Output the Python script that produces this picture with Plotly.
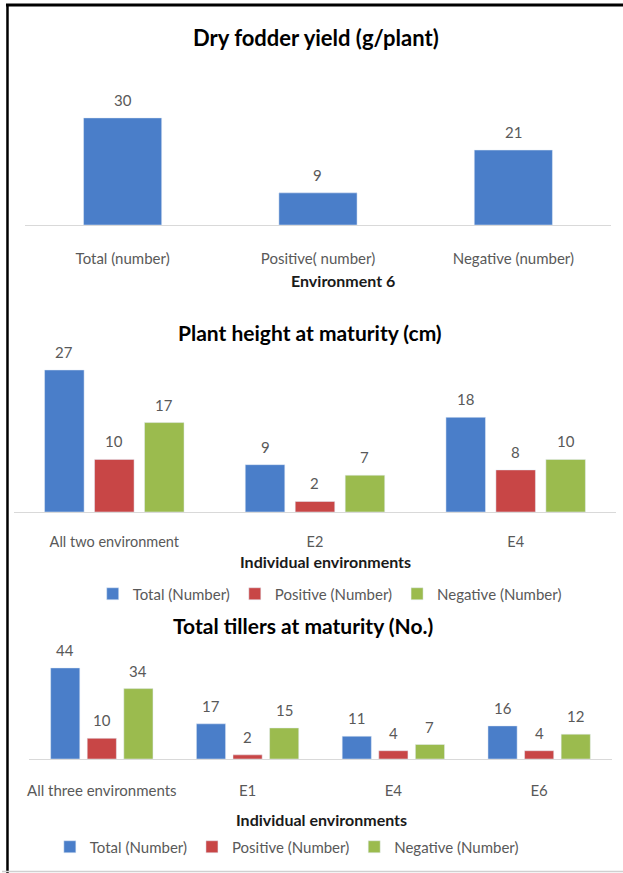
import plotly.graph_objects as go

# ---------------- data ----------------
p1_title = "Dry fodder yield (g/plant)"
p1_categories = ["Total (number)", "Positive( number)", "Negative (number)"]
p1_values = [30, 9, 21]
p1_axis_title = "Environment 6"

p2_title = "Plant height at maturity (cm)"
p2_categories = ["All two environment", "E2", "E4"]
p2_total = [27, 9, 18]
p2_positive = [10, 2, 8]
p2_negative = [17, 7, 10]
p2_axis_title = "Individual environments"

p3_title = "Total tillers at maturity (No.)"
p3_categories = ["All three environments", "E1", "E4", "E6"]
p3_total = [44, 17, 11, 16]
p3_positive = [10, 2, 4, 4]
p3_negative = [34, 15, 7, 12]
p3_axis_title = "Individual environments"

series_names = ["Total (Number)", "Positive (Number)", "Negative (Number)"]
colors = ["#4A7EC9", "#C84646", "#9BBB4E"]

# ---------------- layout helpers ----------------
W, H = 623, 873
FONT = "Lato, 'Open Sans', sans-serif"
GRAY = "#595959"


def px_x(v):
    return v / W


def px_y(v):
    return 1 - v / H


fig = go.Figure()
annotations = []

# panel geometry (pixels): left, right, baseline, px per unit, ymax
panels = {
    1: dict(left=23, right=611, base=225, scale=3.57, ymax=32),
    2: dict(left=12, right=616, base=512, scale=5.26, ymax=29),
    3: dict(left=27, right=612, base=759, scale=2.07, ymax=46),
}

LABEL_FONT = dict(family=FONT, size=15, color=GRAY)

# ---- panel 1 ----
fig.add_trace(go.Bar(
    x=list(range(len(p1_values))), y=p1_values, width=0.4,
    marker_color=colors[0], showlegend=False, xaxis="x", yaxis="y",
))
for i, v in enumerate(p1_values):
    annotations.append(dict(x=i, y=v, xref="x", yref="y", text=str(v),
                            showarrow=False, yshift=18, yanchor="middle",
                            font=LABEL_FONT))


def grouped(cats, series, axis_sfx, legend_name, slot, width):
    for k, vals in enumerate(series):
        off = (k - 1) * slot
        fig.add_trace(go.Bar(
            x=list(range(len(cats))), y=vals, width=width,
            offset=off - width / 2, marker_color=colors[k],
            name=series_names[k], legend=legend_name,
            xaxis="x" + axis_sfx, yaxis="y" + axis_sfx,
        ))
        for i, v in enumerate(vals):
            annotations.append(dict(x=i + off, y=v, xref="x" + axis_sfx,
                                    yref="y" + axis_sfx, text=str(v),
                                    showarrow=False, yshift=18, yanchor="middle",
                                    font=LABEL_FONT))


grouped(p2_categories, [p2_total, p2_positive, p2_negative], "2", "legend", 0.249, 0.197)
grouped(p3_categories, [p3_total, p3_positive, p3_negative], "3", "legend2", 0.251, 0.2)


def xaxis_cfg(p, cats, ticklen, tsize=15):
    g = panels[p]
    return dict(
        domain=[px_x(g["left"]), px_x(g["right"])],
        range=[-0.5, len(cats) - 0.5],
        tickvals=list(range(len(cats))), ticktext=cats,
        showline=True, linecolor="#D9D9D9", linewidth=1,
        ticks="outside", ticklen=ticklen, tickcolor="rgba(0,0,0,0)",
        tickfont=dict(family=FONT, size=tsize, color=GRAY),
        showgrid=False, zeroline=False, fixedrange=True,
        anchor={1: "y", 2: "y2", 3: "y3"}[p],
    )


def yaxis_cfg(p):
    g = panels[p]
    top = g["base"] - g["scale"] * g["ymax"]
    return dict(domain=[px_y(g["base"]), px_y(top)], range=[0, g["ymax"]],
                visible=False, fixedrange=True,
                anchor={1: "x", 2: "x2", 3: "x3"}[p])


def text_ann(txt, xpx, ypx, size, bold=True, color="#000000"):
    annotations.append(dict(x=px_x(xpx), y=px_y(ypx), xref="paper", yref="paper",
                            text=f"<b>{txt}</b>" if bold else txt, showarrow=False,
                            xanchor="center", yanchor="middle",
                            font=dict(family=FONT, size=size, color=color)))


text_ann(p1_title, 315, 38, 22)
text_ann(p2_title, 309, 332, 21)
text_ann(p3_title, 302, 625, 21)
text_ann(p1_axis_title, 342, 280, 16, color="#1a1a1a")
text_ann(p2_axis_title, 325, 561, 16, color="#1a1a1a")
text_ann(p3_axis_title, 321, 819, 16, color="#1a1a1a")

legend_common = dict(orientation="h", xanchor="left", yanchor="middle",
                     font=dict(family=FONT, size=15, color=GRAY),
                     bgcolor="rgba(0,0,0,0)", itemclick=False, itemdoubleclick=False)

fig.update_layout(
    width=W, height=H,
    margin=dict(l=0, r=0, t=0, b=0),
    paper_bgcolor="white", plot_bgcolor="white",
    barmode="overlay",
    xaxis=xaxis_cfg(1, p1_categories, 20),
    yaxis=yaxis_cfg(1),
    xaxis2=xaxis_cfg(2, p2_categories, 17, 14.5),
    yaxis2=yaxis_cfg(2),
    xaxis3=xaxis_cfg(3, p3_categories, 18),
    yaxis3=yaxis_cfg(3),
    legend=dict(x=px_x(91), y=px_y(594), **legend_common),
    legend2=dict(x=px_x(48), y=px_y(847), **legend_common),
    annotations=annotations,
    shapes=[
        dict(type="line", xref="paper", yref="paper", x0=px_x(4), x1=1,
             y0=px_y(5), y1=px_y(5), line=dict(color="black", width=3)),
        dict(type="line", xref="paper", yref="paper", x0=px_x(5.5), x1=px_x(5.5),
             y0=px_y(4), y1=0, line=dict(color="black", width=2.5)),
        dict(type="line", xref="paper", yref="paper", x0=0, x1=1,
             y0=px_y(871.5), y1=px_y(871.5), line=dict(color="#D0D0D0", width=1.5)),
    ],
)

fig.write_html(
    "out.html",
    config={"displayModeBar": False},
    post_script="document.body.style.margin='0px';document.body.style.overflow='hidden';",
)
